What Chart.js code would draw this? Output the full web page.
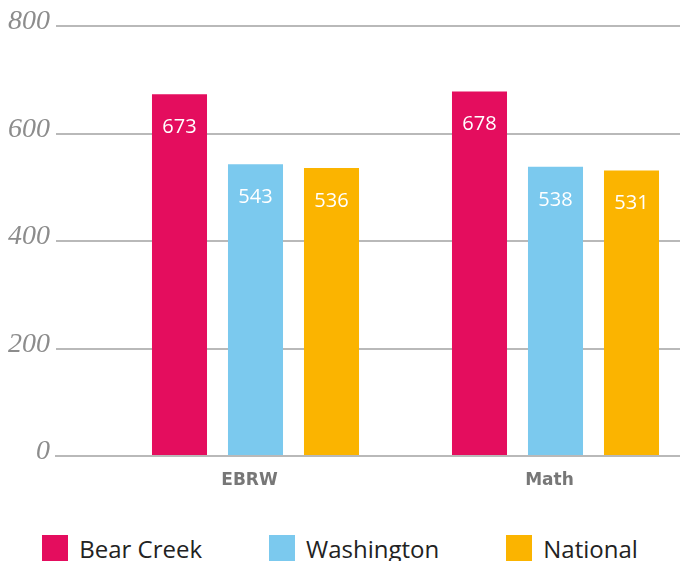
<!DOCTYPE html>
<html>
<head>
<meta charset="utf-8">
<script src="https://cdn.jsdelivr.net/npm/chart.js@4.4.1/dist/chart.umd.min.js"></script>
<style>
  html, body { margin: 0; padding: 0; background: #ffffff; }
  #wrap { position: relative; width: 680px; height: 561px; overflow: hidden; }
  #chart { position: absolute; left: 0; top: 0; }
  #legend { position: absolute; left: 0; top: 535px; width: 680px; height: 26px;
            display: flex; justify-content: center; align-items: center; gap: 0; }
  .item { display: flex; align-items: center; font-family: "Open Sans", sans-serif;
          font-size: 24px; color: #222; white-space: nowrap; }
  .box { width: 26px; height: 26px; margin-right: 11px; }
</style>
</head>
<body>
<div id="wrap">
  <canvas id="chart" width="680" height="500"></canvas>
  <div id="legend"></div>
</div>
<script>
const categories = ['EBRW', 'Math'];
const seriesNames = ['Bear Creek', 'Washington', 'National'];
const bearCreek = [673, 678];
const washington = [543, 538];
const national = [536, 531];
const yTicks = [0, 200, 400, 600, 800];
const seriesColors = ['#E40D5E', '#7BC9EE', '#FBB400'];

const seriesValues = [bearCreek, washington, national];

const toPoints = vals => vals.map((v, i) => ({ x: i, y: v }));

const datasets = seriesNames.map((name, k) => ({
  label: name,
  data: toPoints(seriesValues[k]),
  backgroundColor: seriesColors[k],
  borderWidth: 0,
  categoryPercentage: 0.76,
  barPercentage: 0.724
}));

const valueLabels = {
  id: 'valueLabels',
  afterDatasetsDraw(chart) {
    const ctx = chart.ctx;
    ctx.save();
    ctx.font = '400 20px "Open Sans", sans-serif';
    ctx.fillStyle = '#ffffff';
    ctx.textAlign = 'center';
    ctx.textBaseline = 'middle';
    chart.data.datasets.forEach((ds, di) => {
      const meta = chart.getDatasetMeta(di);
      meta.data.forEach((el, i) => {
        ctx.fillText(String(seriesValues[di][i]), el.x, el.y + 33);
      });
    });
    ctx.restore();
  }
};

const htmlLegend = {
  id: 'htmlLegend',
  afterUpdate(chart) {
    const container = document.getElementById('legend');
    container.innerHTML = '';
    const items = chart.options.plugins.legend.labels.generateLabels(chart);
    items.forEach((it, idx) => {
      const div = document.createElement('div');
      div.className = 'item';
      if (idx > 0) div.style.marginLeft = '67px';
      const box = document.createElement('span');
      box.className = 'box';
      box.style.background = it.fillStyle;
      const txt = document.createElement('span');
      txt.textContent = it.text;
      div.appendChild(box);
      div.appendChild(txt);
      container.appendChild(div);
    });
  }
};

new Chart(document.getElementById('chart'), {
  type: 'bar',
  data: { datasets },
  plugins: [valueLabels, htmlLegend],
  options: {
    responsive: false,
    animation: false,
    devicePixelRatio: 1,
    layout: { padding: { left: 8, top: 26, right: 0, bottom: 0 } },
    plugins: {
      legend: { display: false },
      tooltip: { enabled: false }
    },
    scales: {
      x: {
        type: 'linear',
        offset: false,
        min: -0.665,
        max: 1.415,
        grid: { display: false, offset: false },
        border: { display: true, color: '#b9b9b9', width: 2, z: 1 },
        afterFit(scale) { scale.height = 44; },
        ticks: {
          stepSize: 1,
          includeBounds: false,
          autoSkip: false,
          maxRotation: 0,
          padding: 6,
          labelOffset: -6,
          color: '#777777',
          font: { family: '"DejaVu Sans", sans-serif', size: 17, weight: 'bold' },
          callback: (v) => (Number.isInteger(v) && categories[v] !== undefined) ? categories[v] : ''
        }
      },
      y: {
        min: 0,
        max: 800,
        afterBuildTicks(scale) { scale.ticks = yTicks.map(v => ({ value: v })); },
        afterFit(scale) { scale.width = 48; },
        grid: { color: '#b9b9b9', lineWidth: 2, drawTicks: false },
        border: { display: false },
        ticks: {
          padding: 6,
          labelOffset: -4,
          color: '#8c8c8c',
          font: { family: '"Liberation Serif", serif', size: 28, style: 'italic' },
          callback: (v) => String(v)
        }
      }
    }
  }
});
</script>
</body>
</html>
